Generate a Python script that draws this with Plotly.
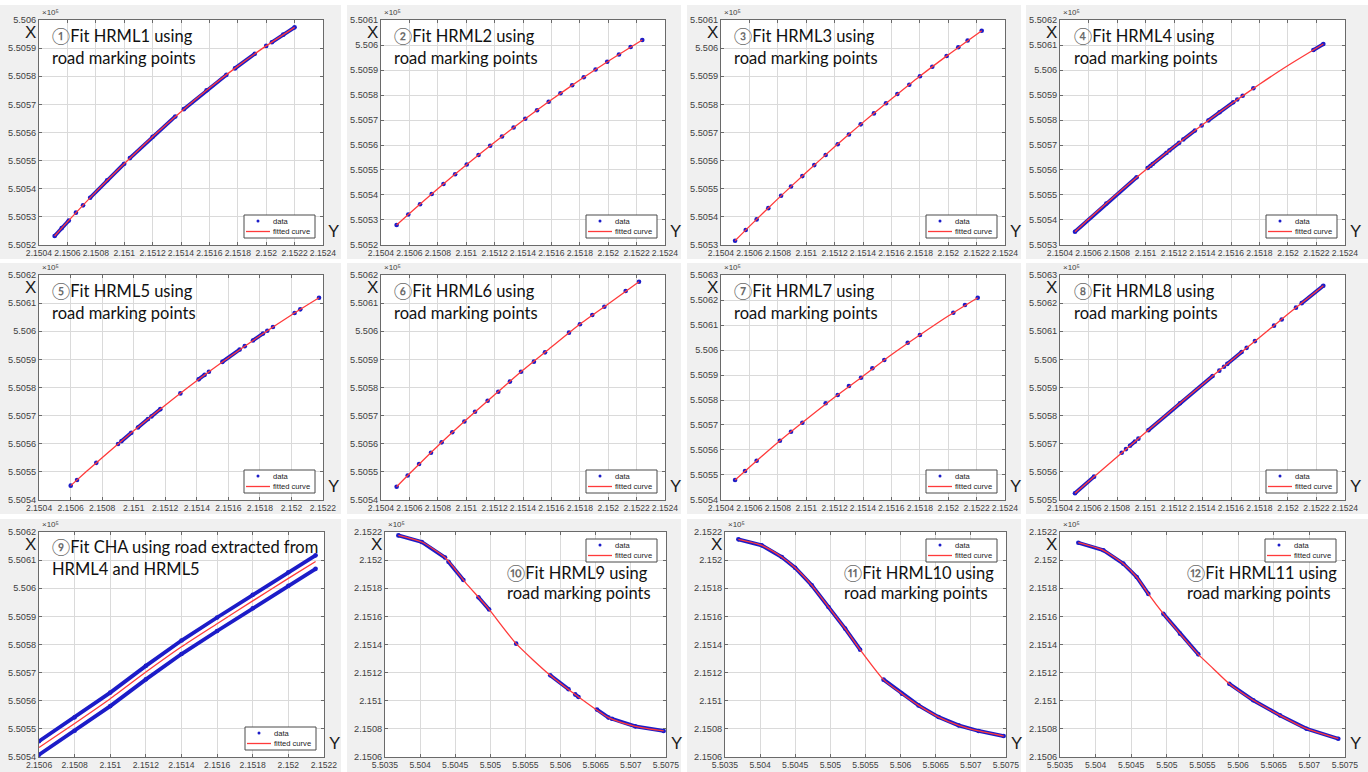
import plotly.graph_objects as go

W, H = 1368, 772
N = None

# ---------------- data (metres) : h = horizontal axis "Y", v = vertical axis "X" ----------------
p1_fit_h = [215051, 215060, 215080, 215100, 215120, 215140, 215160, 215180, 215200, 215220]
p1_fit_v = [550523.2, 550528.2, 550538.9, 550548.9, 550558.5, 550567.4, 550575.8, 550583.6, 550590.8, 550597.4]
p1_dat_h = [215051, 215056, 215061, N, 215066, N, 215071, N, 215076, 215088, 215100, N, 215104, 215120, 215136, N,
            215142, 215158, 215172, N, 215178, 215192, N, 215200, N, 215204, 215212, 215220]
p1_dat_v = [550523.2, 550526.0, 550528.7, N, 550531.5, N, 550534.1, N, 550536.8, 550543.0, 550548.9, N, 550550.9, 550558.5, 550565.7, N,
            550568.3, 550575.0, 550580.5, N, 550582.8, 550588.0, N, 550590.8, N, 550592.1, 550594.8, 550597.4]

p2_fit_h = [215051, 215060, 215080, 215100, 215120, 215140, 215160, 215180, 215200, 215224]
p2_fit_v = [550528.0, 550532.6, 550542.5, 550552.0, 550561.1, 550569.8, 550578.1, 550586.0, 550593.5, 550602.0]
p2_dat_h = [215051.0, N, 215059.2, N, 215067.5, N, 215075.7, N, 215084.0, N, 215092.2, N, 215100.4, N, 215108.7, N,
            215116.9, N, 215125.2, N, 215133.4, N, 215141.6, N, 215149.9, N, 215158.1, N, 215166.4, N, 215174.6, N,
            215182.8, N, 215191.1, N, 215199.3, N, 215207.6, N, 215215.8, N, 215224.0]
p2_dat_v = [550528.0, N, 550532.2, N, 550536.3, N, 550540.4, N, 550544.4, N, 550548.3, N, 550552.2, N, 550556.0, N,
            550559.7, N, 550563.4, N, 550567.0, N, 550570.5, N, 550573.9, N, 550577.3, N, 550580.7, N, 550583.9, N,
            550587.1, N, 550590.2, N, 550593.3, N, 550596.2, N, 550599.2, N, 550602.0]

p3_fit_h = [215049.9, 215060, 215080, 215100, 215120, 215140, 215160, 215180, 215200, 215223.6]
p3_fit_v = [550531.5, 550536.6, 550546.4, 550555.8, 550564.9, 550573.6, 550581.9, 550590.0, 550597.6, 550606.2]
p3_dat_h = [215049.9, N, 215057.4, N, 215065.1, N, 215073.3, N, 215082.3, N, 215089.3, N, 215097.3, N, 215105.7, N,
            215113.7, N, 215122.2, N, 215130.1, N, 215138.4, N, 215147.7, N, 215156.2, N, 215164.2, N, 215172.6, N,
            215180.1, N, 215188.8, N, 215198.9, N, 215207.1, N, 215213.7, N, 215223.6]
p3_dat_v = [550531.5, N, 550535.3, N, 550539.1, N, 550543.1, N, 550547.5, N, 550550.8, N, 550554.5, N, 550558.4, N,
            550562.0, N, 550565.8, N, 550569.3, N, 550572.9, N, 550576.8, N, 550580.4, N, 550583.7, N, 550587.0, N,
            550590.0, N, 550593.4, N, 550597.2, N, 550600.3, N, 550602.7, N, 550606.2]

p4_fit_h = [215050.5, 215060, 215080, 215100, 215120, 215140, 215160, 215180, 215200, 215224.8]
p4_fit_v = [550535.3, 550540.3, 550550.4, 550560.0, 550569.3, 550578.1, 550586.4, 550594.3, 550601.8, 550610.4]
p4_dat_h = [215050.5, 215072.5, 215093.8, N, 215101.5, 215103.6, N, 215105.0, 215114.8, N, 215116.7, 215123.7, N,
            215126.5, 215134.7, N, 215139.4, N, 215144.1, 215152.0, 215161.6, N, 215164.4, N, 215168.2, N, 215175.7, N,
            215217.8, 215224.8]
p4_dat_v = [550535.3, 550546.6, 550557.1, N, 550560.8, 550561.7, N, 550562.4, 550566.9, N, 550567.8, 550570.9, N,
            550572.2, 550575.8, N, 550577.8, N, 550579.8, 550583.1, 550587.1, N, 550588.2, N, 550589.7, N, 550592.7, N,
            550608.0, 550610.4]

p5_fit_h = [215060.1, 215070, 215080, 215100, 215120, 215140, 215160, 215180, 215200, 215217.5]
p5_fit_v = [550545.1, 550550.1, 550555.0, 550564.6, 550573.7, 550582.4, 550590.6, 550598.4, 550605.8, 550611.9]
p5_dat_h = [215060.1, N, 215064.1, N, 215076.3, N, 215090.1, N, 215092.2, 215098.5, N, 215102.7, 215109.1, N,
            215111.2, 215116.9, N, 215129.6, N, 215141.2, 215145.0, N, 215147.7, N, 215156.2, 215167.2, N, 215170.4, N,
            215175.6, 215182.0, N, 215184.7, N, 215188.3, N, 215202.0, N, 215205.6, N, 215217.5]
p5_dat_v = [550545.1, N, 550547.1, N, 550553.2, N, 550559.9, N, 550560.9, 550563.9, N, 550565.8, 550568.8, N,
            550569.7, 550572.3, N, 550577.9, N, 550582.9, 550584.5, N, 550585.6, N, 550589.1, 550593.5, N, 550594.7, N,
            550596.7, 550599.2, N, 550600.2, N, 550601.5, N, 550606.5, N, 550607.8, N, 550611.9]

p6_fit_h = [215051.0, 215060, 215080, 215100, 215120, 215140, 215160, 215180, 215200, 215221.7]
p6_fit_v = [550544.7, 550549.3, 550559.2, 550568.5, 550577.4, 550586.2, 550594.4, 550602.5, 550609.7, 550617.6]
p6_dat_h = [215051.0, N, 215058.8, N, 215066.8, N, 215075.2, N, 215082.7, N, 215090.2, N, 215098.7, N, 215106.2, N,
            215115.1, N, 215122.6, N, 215130.8, N, 215138.6, N, 215147.7, N, 215155.5, N, 215172.4, N, 215180.1, N,
            215188.8, N, 215197.3, N, 215212.3, N, 215221.7]
p6_dat_v = [550544.7, N, 550548.7, N, 550552.8, N, 550556.8, N, 550560.5, N, 550564.1, N, 550567.9, N, 550571.4, N,
            550575.3, N, 550578.5, N, 550582.1, N, 550585.6, N, 550589.2, N, 550592.5, N, 550599.5, N, 550602.5, N,
            550605.8, N, 550608.7, N, 550614.3, N, 550617.6]

p7_fit_h = [215049.9, 215060, 215080, 215100, 215120, 215140, 215160, 215180, 215200, 215220.8]
p7_fit_v = [550548.0, 550553.1, 550563.0, 550572.2, 550581.1, 550589.5, 550598.1, 550606.0, 550613.6, 550620.9]
p7_dat_h = [215049.9, N, 215056.9, N, 215065.1, N, 215081.5, N, 215089.3, N, 215097.3, N, 215113.7, N, 215122.2, N,
            215130.1, N, 215138.6, N, 215146.6, N, 215155.0, N, 215171.5, N, 215180.1, N, 215203.6, N, 215211.8, N, 215220.8]
p7_dat_v = [550548.0, N, 550551.6, N, 550555.7, N, 550563.7, N, 550567.3, N, 550570.9, N, 550578.7, N, 550582.0, N,
            550585.6, N, 550588.9, N, 550592.7, N, 550596.0, N, 550602.9, N, 550606.0, N, 550614.9, N, 550618.0, N, 550620.9]

p8_fit_h = [215050.5, 215060, 215080, 215100, 215120, 215140, 215160, 215180, 215200, 215224.8]
p8_fit_v = [550552.4, 550556.6, 550565.3, 550574.0, 550582.6, 550591.1, 550599.5, 550607.8, 550616.1, 550626.2]
p8_dat_h = [215050.5, 215063.9, N, 215083.3, N, 215086.3, N, 215089.1, 215092.6, N, 215095.0, N,
            215102.0, 215124.2, 215147.1, N, 215151.8, N, 215155.1, N, 215157.4, 215167.5, N, 215171.0, N,
            215176.8, N, 215190.2, N, 215195.6, N, 215205.6, N, 215209.6, 215224.8]
p8_dat_v = [550552.4, 550558.3, N, 550566.8, N, 550568.1, N, 550569.3, 550570.8, N, 550571.8, N,
            550574.8, 550584.4, 550594.1, N, 550596.0, N, 550597.4, N, 550598.4, 550602.6, N, 550604.1, N,
            550606.5, N, 550612.0, N, 550614.2, N, 550618.4, N, 550620.0, 550626.2]

p9_fit_h = [215060.0, 215080, 215100, 215120, 215140, 215160, 215180, 215200, 215215.3]
p9_fit_v = [550543.4, 550551.9, 550560.7, 550570.2, 550579.2, 550587.4, 550595.5, 550603.5, 550609.5]
p9_dat_h = [215060.0, 215080, 215100, 215120, 215140, 215160, 215180, 215200, 215215.3, N,
            215060.0, 215080, 215100, 215120, 215140, 215160, 215180, 215200, 215215.3]
p9_dat_v = [550545.6, 550554.1, 550562.9, 550572.4, 550581.4, 550589.6, 550597.7, 550605.7, 550611.7, N,
            550540.8, 550549.3, 550558.1, 550567.6, 550576.6, 550584.8, 550592.9, 550600.9, 550606.9]

p10_fit_h = [550369.0, 550402.3, 550435.5, 550464.0, 550497.3, 550536.7, 550585.2, 550625.5, 550668.3, 550706.3, 550746.7]
p10_fit_v = [215217.6, 215212.9, 215201.8, 215184.4, 215165.5, 215140.6, 215118.1, 215102.7, 215088.0, 215081.8, 215078.5]
p10_dat_h = [550369.0, 550402.3, 550435.5, N, 550440.3, 550461.6, N, 550483.0, 550498.2, N, 550536.7, N,
             550585.2, 550611.3, N, 550620.8, 550625.5, N, 550651.7, 550668.3, N, 550673.0, 550706.3, 550746.7]
p10_dat_v = [215217.6, 215212.9, 215201.8, N, 215198.9, 215185.9, N, 215173.6, 215164.9, N, 215140.6, N,
             215118.1, 215108.2, N, 215104.5, 215102.7, N, 215093.8, 215088.0, N, 215087.2, 215081.8, 215078.5]

p11_fit_h = [550369.0, 550402.3, 550430.8, 550449.8, 550473.5, 550497.3, 550521.0, 550542.4, 550575.7, 550601.8,
             550625.5, 550654.0, 550682.5, 550711.0, 550746.7]
p11_fit_v = [215214.8, 215210.5, 215202.2, 215194.6, 215182.1, 215166.7, 215151.3, 215136.3, 215115.0, 215105.0,
             215096.7, 215088.4, 215082.5, 215078.5, 215074.9]
p11_dat_h = [550369.0, 550402.3, 550430.8, 550449.8, 550473.5, 550497.3, 550521.0, 550542.4, N,
             550575.7, 550601.8, 550625.5, 550654.0, 550682.5, 550711.0, 550746.7]
p11_dat_v = [215214.8, 215210.5, 215202.2, 215194.6, 215182.1, 215166.7, 215151.3, 215136.3, N,
             215115.0, 215105.0, 215096.7, 215088.4, 215082.5, 215078.5, 215074.9]

p12_fit_h = [550375.7, 550410.8, 550438.9, 550457.6, 550474.0, 550495.0, 550518.4, 550544.1, 550565.2, 550587.6,
             550621.3, 550658.7, 550696.1, 550740.6]
p12_fit_v = [215212.4, 215207.0, 215197.5, 215188.0, 215176.0, 215161.9, 215147.7, 215133.0, 215122.8, 215112.1,
             215100.3, 215089.6, 215080.1, 215073.0]
p12_dat_h = [550375.7, 550410.8, 550438.9, 550457.6, 550474.0, N, 550495.0, 550518.4, 550544.1, N,
             550587.6, 550621.3, 550658.7, 550696.1, 550740.6]
p12_dat_v = [215212.4, 215207.0, 215197.5, 215188.0, 215176.0, N, 215161.9, 215147.7, 215133.0, N,
             215112.1, 215100.3, 215089.6, 215080.1, 215073.0]

# axis ranges (min, max, step), legend labels and panel titles (circled number, line 1, line 2)
h_axes = [(215040, 215240, 20)] * 4 + [(215040, 215220, 20)] + [(215040, 215240, 20)] * 3 + \
         [(215060, 215220, 20)] + [(550350, 550750, 50)] * 3
v_axes = [(550520, 550600, 10), (550520, 550610, 10), (550530, 550610, 10), (550530, 550620, 10),
          (550540, 550620, 10), (550540, 550620, 10), (550540, 550630, 10), (550550, 550630, 10),
          (550540, 550620, 10), (215060, 215220, 20), (215060, 215220, 20), (215060, 215220, 20)]
legend_labels = ["data", "fitted curve"]
title_nums = ["\u2460", "\u2461", "\u2462", "\u2463", "\u2464", "\u2465",
              "\u2466", "\u2467", "\u2468", "\u2469", "\u246a", "\u246b"]
title_line1 = ["Fit HRML1 using", "Fit HRML2 using", "Fit HRML3 using", "Fit HRML4 using",
               "Fit HRML5 using", "Fit HRML6 using", "Fit HRML7 using", "Fit HRML8 using",
               "Fit CHA using road extracted from", "Fit HRML9 using", "Fit HRML10 using", "Fit HRML11 using"]
title_line2 = ["road marking points"] * 8 + ["HRML4 and HRML5"] + ["road marking points"] * 3

fits = [(p1_fit_h, p1_fit_v), (p2_fit_h, p2_fit_v), (p3_fit_h, p3_fit_v), (p4_fit_h, p4_fit_v),
        (p5_fit_h, p5_fit_v), (p6_fit_h, p6_fit_v), (p7_fit_h, p7_fit_v), (p8_fit_h, p8_fit_v),
        (p9_fit_h, p9_fit_v), (p10_fit_h, p10_fit_v), (p11_fit_h, p11_fit_v), (p12_fit_h, p12_fit_v)]
dats = [(p1_dat_h, p1_dat_v), (p2_dat_h, p2_dat_v), (p3_dat_h, p3_dat_v), (p4_dat_h, p4_dat_v),
        (p5_dat_h, p5_dat_v), (p6_dat_h, p6_dat_v), (p7_dat_h, p7_dat_v), (p8_dat_h, p8_dat_v),
        (p9_dat_h, p9_dat_v), (p10_dat_h, p10_dat_v), (p11_dat_h, p11_dat_v), (p12_dat_h, p12_dat_v)]

# ---------------- layout geometry (pixels) ----------------
BOX = [(39, 20, 323, 245), (381, 20, 665, 245), (721, 20, 1005, 245), (1060, 20, 1345, 245),
       (39, 275, 323, 500), (381, 275, 665, 500), (721, 275, 1005, 500), (1060, 275, 1345, 500),
       (39, 532, 324, 757), (385, 532, 666, 757), (725, 532, 1006, 757), (1060, 532, 1345, 757)]
COLS = [(0, 341), (347, 681), (687, 1021), (1026, 1368)]
ROWS = [(5, 259), (263, 514), (519, 772)]
# (left x, centre y of line 1, centre y of line 2)
TITLE_POS = [(50, 36, 57.5), (392, 36, 57.5), (732, 36, 57.5), (1072, 36, 57.5),
             (50, 291, 312.5), (392, 291, 312.5), (732, 291, 312.5), (1072, 291, 312.5),
             (50, 547, 568.5), (505, 572.5, 593), (842, 572.5, 593), (1185, 572.5, 593)]
LEG_W, LEG_H = 71, 23

BLUE = "#1c1cc8"
RED = "#ff3a3a"
TICKC = "#404040"
AXC = "#6a6a6a"
GRIDC = "#dadada"
TFONT = "Liberation Sans, Arial, sans-serif"
TITLEFONT = "Lato, Noto Sans CJK SC, sans-serif"


def px(x):
    return x / W


def py(y):
    return 1 - y / H


def fmt(v):
    return f"{v / 1e5:.4f}".rstrip("0").rstrip(".")


fig = go.Figure()
shapes, anns = [], []
layout = dict(width=W, height=H, margin=dict(l=0, r=0, t=0, b=0), paper_bgcolor="white",
              plot_bgcolor="white", showlegend=False)

for c0, c1 in COLS:
    for r0, r1 in ROWS:
        shapes.append(dict(type="rect", xref="paper", yref="paper", x0=px(c0), x1=px(c1),
                           y0=py(r1), y1=py(r0), fillcolor="#f0f0f0", line=dict(width=0), layer="below"))

for i in range(12):
    s = "" if i == 0 else str(i + 1)
    xa, ya = "x" + s, "y" + s
    l, t, r, b = BOX[i]
    shapes.append(dict(type="rect", xref="paper", yref="paper", x0=px(l), x1=px(r),
                       y0=py(b), y1=py(t), fillcolor="white", line=dict(width=0), layer="below"))
    hlo, hhi, hst = h_axes[i]
    vlo, vhi, vst = v_axes[i]
    hticks = list(range(hlo, hhi + 1, hst))
    vticks = list(range(vlo, vhi + 1, vst))
    common = dict(showgrid=True, gridcolor=GRIDC, gridwidth=1, showline=True, linecolor=AXC, linewidth=1,
                  mirror="ticks", ticks="inside", ticklen=3, tickcolor=AXC, zeroline=False, fixedrange=True,
                  automargin=False, tickmode="array")
    layout["xaxis" + s] = dict(common, domain=[px(l), px(r)], range=[hlo - 0.01, hhi + 0.01],
                               tickvals=hticks, ticktext=[fmt(v) for v in hticks], anchor=ya, tickangle=0,
                               tickfont=dict(family=TFONT, size=8.6, color=TICKC))
    layout["yaxis" + s] = dict(common, domain=[py(b), py(t)], range=[vlo - 0.01, vhi + 0.01],
                               tickvals=vticks, ticktext=[fmt(v) for v in vticks], anchor=xa,
                               tickfont=dict(family=TFONT, size=9.2, color=TICKC))

    dh, dv = dats[i]
    fh, fv = fits[i]
    fig.add_trace(go.Scatter(x=dh, y=dv, mode="lines+markers", line=dict(color=BLUE, width=3.8),
                             marker=dict(color=BLUE, size=4.6), xaxis=xa, yaxis=ya, name=legend_labels[0],
                             hoverinfo="skip", connectgaps=False))
    fig.add_trace(go.Scatter(x=fh, y=fv, mode="lines", line=dict(color=RED, width=1.3, shape="spline",
                                                                  smoothing=0.6),
                             name=legend_labels[1], xaxis=xa, yaxis=ya))

    # legend box (drawn like MATLAB's compact legend)
    if i < 9:
        L, T = r - 8 - LEG_W, b - 7 - LEG_H
    else:
        L, T = r - 9 - LEG_W, t + 7
    shapes.append(dict(type="rect", xref="paper", yref="paper", x0=px(L), x1=px(L + LEG_W),
                       y0=py(T + LEG_H), y1=py(T), fillcolor="white",
                       line=dict(color="#4a4a4a", width=1), layer="above"))
    shapes.append(dict(type="circle", xref="paper", yref="paper", x0=px(L + 12.5), x1=px(L + 15.5),
                       y0=py(T + 7.5), y1=py(T + 4.5), fillcolor=BLUE, line=dict(width=0), layer="above"))
    shapes.append(dict(type="line", xref="paper", yref="paper", x0=px(L + 2), x1=px(L + 26),
                       y0=py(T + 16.5), y1=py(T + 16.5), line=dict(color=RED, width=1.3), layer="above"))
    for k, lab in enumerate(legend_labels):
        anns.append(dict(text=lab, x=px(L + 27), y=py(T + 6 + 10.5 * k), xref="paper", yref="paper",
                         xanchor="left", yanchor="middle", showarrow=False,
                         font=dict(family=TFONT, size=7.6, color="#222")))

    anns.append(dict(text="\u00d710\u2075", x=px(l + 1), y=py(t - 1), xref="paper", yref="paper",
                     xanchor="left", yanchor="bottom", showarrow=False,
                     font=dict(family=TFONT, size=8, color=TICKC)))
    anns.append(dict(text="X", x=px(l - 1), y=py(t + 12.5), xref="paper", yref="paper", xanchor="right",
                     yanchor="middle", showarrow=False, font=dict(family=TFONT, size=17, color="#1a1a1a")))
    anns.append(dict(text="Y", x=px(r + 3), y=py(b - 2), xref="paper", yref="paper", xanchor="left",
                     yanchor="bottom", showarrow=False, font=dict(family=TFONT, size=17, color="#1a1a1a")))
    tx, ty1, ty2 = TITLE_POS[i]
    anns.append(dict(text=f'<span style="color:#6a6a6a">{title_nums[i]}</span>{title_line1[i]}',
                     x=px(tx), y=py(ty1), xref="paper", yref="paper", xanchor="left", yanchor="middle",
                     showarrow=False, font=dict(family=TITLEFONT, size=16.5, color="#111")))
    anns.append(dict(text=title_line2[i], x=px(tx), y=py(ty2), xref="paper", yref="paper", xanchor="left",
                     yanchor="middle", showarrow=False, font=dict(family=TITLEFONT, size=16.5, color="#111")))

layout["shapes"] = shapes
layout["annotations"] = anns
fig.update_layout(**layout)
fig.write_html("out.html")
